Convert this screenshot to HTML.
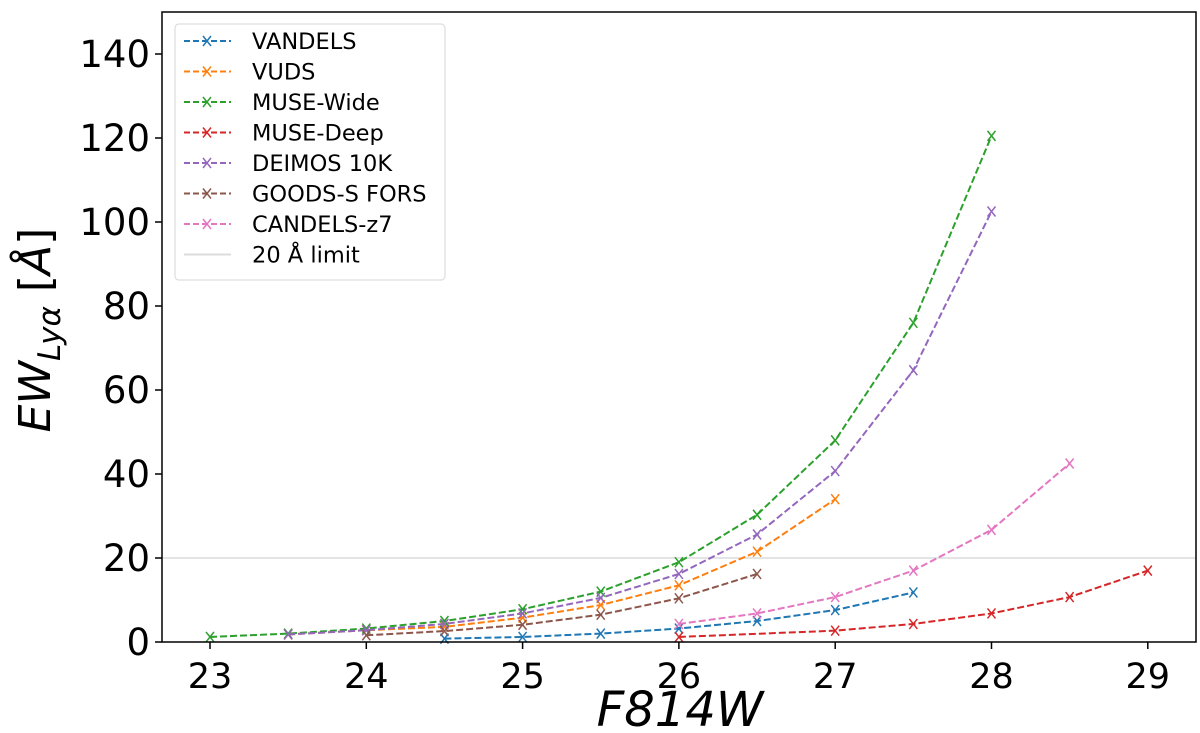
<!DOCTYPE html>
<html><head><meta charset="utf-8"><style>
body{margin:0;background:#fff;font-family:"Liberation Sans","DejaVu Sans",sans-serif}
svg text{font-family:"DejaVu Sans","Liberation Sans",sans-serif}
</style></head><body>
<svg id="c" width="1200" height="728"></svg>
<script>
const xs = ["23","23.5","24","24.5","25","25.5","26","26.5","27","27.5","28","28.5","29"];
const names = ["VANDELS","VUDS","MUSE-Wide","MUSE-Deep","DEIMOS 10K","GOODS-S FORS","CANDELS-z7"];
const colors = ["#1f77b4","#ff7f0e","#2ca02c","#d62728","#9467bd","#8c564b","#e377c2"];
const vandelsX=[24.5,25,25.5,26,26.5,27,27.5];
const vandelsY=[0.8,1.2,2,3.2,5,7.6,11.8];
const vudsX=[23.5,24,24.5,25,25.5,26,26.5,27];
const vudsY=[1.8,2.8,3.6,5.8,8.8,13.5,21.5,34];
const wideX=[23,23.5,24,24.5,25,25.5,26,26.5,27,27.5,28];
const wideY=[1.2,2,3.2,5,7.8,12,19,30.3,48,76,120.5];
const deepX=[26,27,27.5,28,28.5,29];
const deepY=[1.2,2.7,4.3,6.8,10.7,17];
const deimosX=[23.5,24,24.5,25,25.5,26,26.5,27,27.5,28];
const deimosY=[1.8,2.8,4.3,6.8,10.5,16.2,25.6,40.7,64.7,102.5];
const goodsX=[24,24.5,25,25.5,26,26.5];
const goodsY=[1.6,2.6,4.1,6.5,10.4,16.2];
const candelsX=[26,26.5,27,27.5,28,28.5];
const candelsY=[4.3,6.8,10.7,17,26.7,42.5];
const xTicks=[23,24,25,26,27,28,29];
const yTicks=[0,20,40,60,80,100,120,140];
const limitY=20;

const svg=document.getElementById('c');const NS="http://www.w3.org/2000/svg";
const L=162,R=1196,T=12,B=642;
const X=v=>210+(v-23)*156.3;
const Y=v=>642-v*4.2;
function el(t,a,p){const e=document.createElementNS(NS,t);for(const k in a)e.setAttribute(k,a[k]);(p||svg).appendChild(e);return e;}
let e;
e=el('line',{x1:L,x2:R,y1:Y(limitY),y2:Y(limitY),stroke:'#dcdcdc','stroke-width':1.5});


const series=[[vandelsX,vandelsY],[vudsX,vudsY],[wideX,wideY],[deepX,deepY],[deimosX,deimosY],[goodsX,goodsY],[candelsX,candelsY]];
series.forEach((s,i)=>{
 const g=el('g',{});
 
 
 const pts=s[0].map((x,j)=>X(x)+','+Y(s[1][j])).join(' ');
 el('polyline',{points:pts,fill:'none',stroke:colors[i],'stroke-width':2,'stroke-dasharray':'7,3'},g);
 s[0].forEach((x,j)=>{const cx=X(x),cy=Y(s[1][j]);
  const m=el('path',{d:`M${cx-4},${cy-5}L${cx+4},${cy+5}M${cx-4},${cy+5}L${cx+4},${cy-5}`,stroke:colors[i],'stroke-width':1.5},g);
  
  
 });
});
e=el('rect',{x:L,y:T,width:R-L,height:B-T,fill:'none',stroke:'#000','stroke-width':1.5});


xTicks.forEach(v=>{el('line',{x1:X(v),x2:X(v),y1:B,y2:B+7,stroke:'#000','stroke-width':1.5});
 const t=el('text',{x:X(v),y:B+46,'font-size':35,'text-anchor':'middle'});t.textContent=v;
 
 });
yTicks.forEach(v=>{el('line',{x1:L-7,x2:L,y1:Y(v),y2:Y(v),stroke:'#000','stroke-width':1.5});
 const t=el('text',{x:L-12,y:Y(v)+13,'font-size':37,'text-anchor':'end'});t.textContent=v;
 
 });
e=el('text',{x:680,y:726,'font-size':48,'text-anchor':'middle','font-style':'italic'});e.textContent='F814W';


e=el('text',{transform:'translate(50,330) rotate(-90)','font-size':44,'text-anchor':'middle'});
e.innerHTML='<tspan font-style="italic">EW</tspan><tspan font-style="italic" font-size="31" dy="10">Lyα</tspan><tspan dy="-10"> [</tspan><tspan font-style="italic">Å</tspan>]';


const lg=el('g',{});


el('rect',{x:175,y:24,width:270,height:256,rx:4,fill:'#fff',stroke:'#ddd','stroke-width':1.2},lg);
const labels=names.concat(['20 Å limit']);
labels.forEach((n,i)=>{const y=41+i*30.5;
 const c=i<7?colors[i]:'#dcdcdc';
 el('line',{x1:184,x2:231,y1:y,y2:y,stroke:c,'stroke-width':2,'stroke-dasharray':i<7?'6,3':'none'},lg);
 if(i<7)el('path',{d:`M${203},${y-5}L${211},${y+5}M${203},${y+5}L${211},${y-5}`,stroke:c,'stroke-width':1.5},lg);
 const t=el('text',{x:252,y:y+8,'font-size':22.5},lg);t.textContent=n;
 
 
});
</script></body></html>
